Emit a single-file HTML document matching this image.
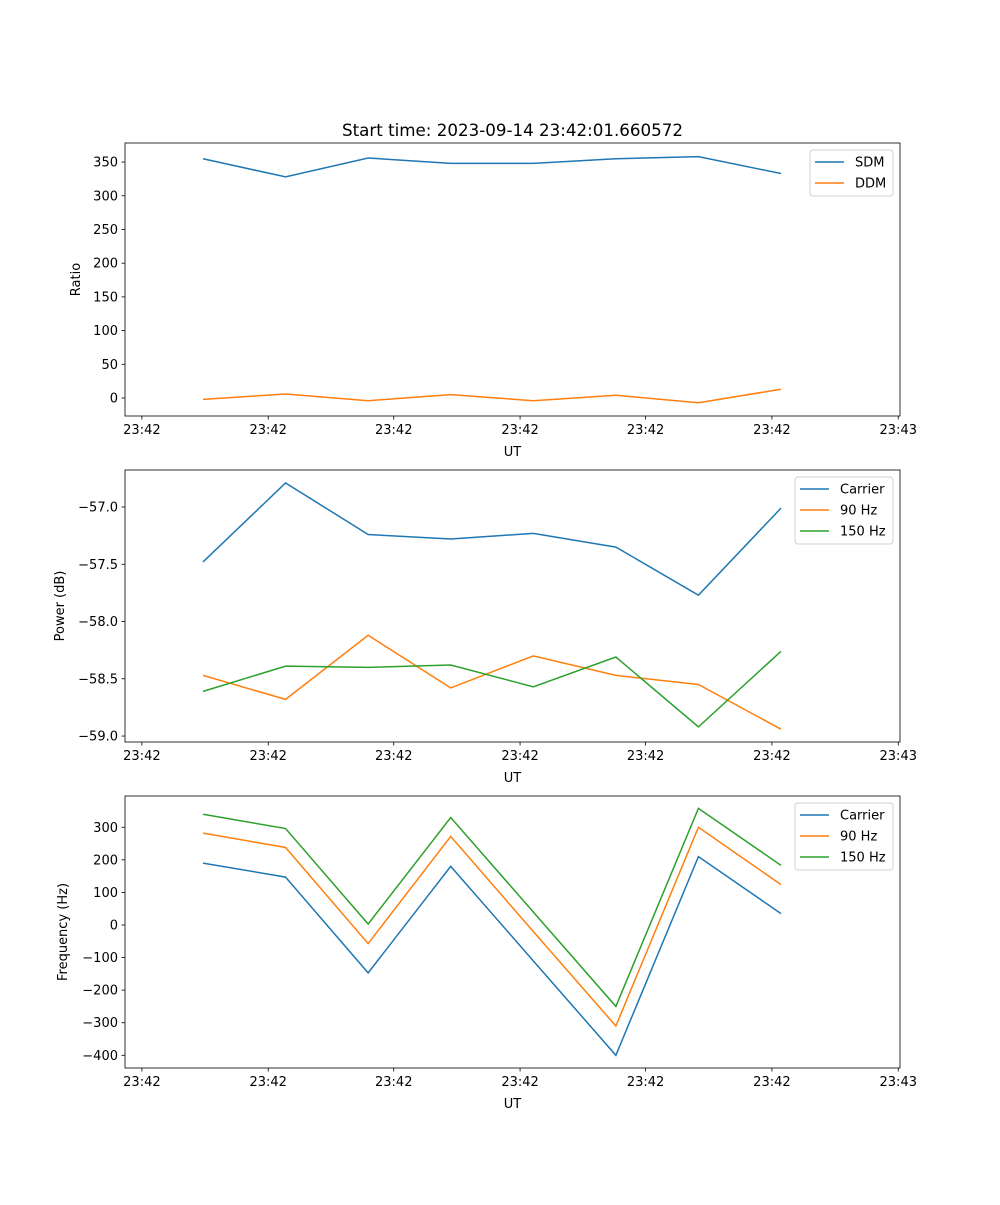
<!DOCTYPE html>
<html><head><meta charset="utf-8"><style>
html,body{margin:0;padding:0;background:#fff}
svg text{font-family:"DejaVu Sans","Liberation Sans",sans-serif;fill:#000}
</style></head><body>
<svg id="fig" width="1000" height="1200" xmlns="http://www.w3.org/2000/svg"></svg>
<script>
const sampleIdx = [0,1,2,3,4,5,6,7];
const xTickVals = [-0.74,0.79,2.31,3.84,5.36,6.89,8.42];
const xTickLabels = ["23:42","23:42","23:42","23:42","23:42","23:42","23:43"];
const sdm = [355,328,356,348,348,355,358,333];
const ddm = [-2,6,-4,5,-4,4,-7,13];
const ratioTicks = [0,50,100,150,200,250,300,350];
const pCarrier = [-57.48,-56.79,-57.24,-57.28,-57.23,-57.35,-57.77,-57.01];
const p90 = [-58.47,-58.68,-58.12,-58.58,-58.30,-58.47,-58.55,-58.94];
const p150 = [-58.61,-58.39,-58.40,-58.38,-58.57,-58.31,-58.92,-58.26];
const powerTicks = [-59.0,-58.5,-58.0,-57.5,-57.0];
const fCarrier = [190,147,-147,180,-110,-400,210,35];
const f90 = [282,238,-57,272,-20,-310,300,124];
const f150 = [340,296,3,330,40,-250,358,183];
const freqTicks = [-400,-300,-200,-100,0,100,200,300];

const NS="http://www.w3.org/2000/svg";
const svg=document.getElementById('fig');
function el(tag,attrs,parent){const e=document.createElementNS(NS,tag);for(const k in attrs)e.setAttribute(k,attrs[k]);(parent||svg).appendChild(e);return e;}
const C=['#1f77b4','#ff7f0e','#2ca02c'];
const L=125,R=900;
function xs(v){return 203+(v-0)*(781-203)/7;}

function panel(name,top,bot,ymin,ymax,yticks,ylabel,series,names,fmt,legend){
  const g=el('g',{},svg);
  
  
  const ys=v=>bot-(v-ymin)/(ymax-ymin)*(bot-top);
  series.forEach((s,si)=>{
    const p=el('polyline',{points:s.map((v,i)=>xs(sampleIdx[i]).toFixed(2)+','+ys(v).toFixed(2)).join(' '),fill:'none',stroke:C[si],'stroke-width':1.5},g);
    
    
  });
  const fr=el('rect',{x:L,y:top,width:R-L,height:bot-top,fill:'none',stroke:'#000','stroke-width':0.8},g);
  
  
  xTickVals.forEach((v,i)=>{
    const x=xs(v);
    el('line',{x1:x,y1:bot,x2:x,y2:bot+3.5,stroke:'#000','stroke-width':0.8},g);
    const t=el('text',{x:x,y:bot+18,'text-anchor':'middle','font-size':13},g);
    t.textContent=xTickLabels[i];
    
    
  });
  const xl=el('text',{x:(L+R)/2,y:bot+40,'text-anchor':'middle','font-size':13},g);
  xl.textContent='UT';
  
  
  yticks.forEach(v=>{
    const y=ys(v);
    el('line',{x1:L-3.5,y1:y,x2:L,y2:y,stroke:'#000','stroke-width':0.8},g);
    const t=el('text',{x:L-7,y:y+4.5,'text-anchor':'end','font-size':13},g);
    t.textContent=fmt(v);
    
    
  });
  const yl=el('text',{x:0,y:0,'text-anchor':'middle','font-size':13,transform:`translate(${legend.ylx},${(top+bot)/2}) rotate(-90)`},g);
  yl.textContent=ylabel;
  
  
  const lg=el('g',{},g);
  
  
  el('rect',{x:legend.x,y:top+7,width:R-7-legend.x,height:names.length*21+4,rx:3,fill:'#fff',stroke:'#d0d0d0','stroke-width':1,'fill-opacity':0.8},lg);
  names.forEach((n,i)=>{
    const cy=top+19+i*21;
    el('line',{x1:legend.x+5,y1:cy,x2:legend.x+34,y2:cy,stroke:C[i],'stroke-width':1.5},lg);
    const t=el('text',{x:legend.x+45,y:cy+4.5,'font-size':13},lg);
    t.textContent=n;
    
    
  });
}
const tt=el('text',{x:(L+R)/2,y:136,'text-anchor':'middle','font-size':16.7});
tt.textContent='Start time: 2023-09-14 23:42:01.660572';



panel('ratio-panel',143,416,-26.7,378.3,ratioTicks,'Ratio',[sdm,ddm],['SDM','DDM'],v=>String(v),{x:810,ylx:80});
panel('power-panel',470,742,-59.052,-56.677,powerTicks,'Power (dB)',[pCarrier,p90,p150],['Carrier','90 Hz','150 Hz'],v=>v.toFixed(1).replace('-','\u2212'),{x:795,ylx:64});
panel('frequency-panel',796,1068,-439,396,freqTicks,'Frequency (Hz)',[fCarrier,f90,f150],['Carrier','90 Hz','150 Hz'],v=>String(v).replace('-','\u2212'),{x:795,ylx:67});
</script>
</body></html>
